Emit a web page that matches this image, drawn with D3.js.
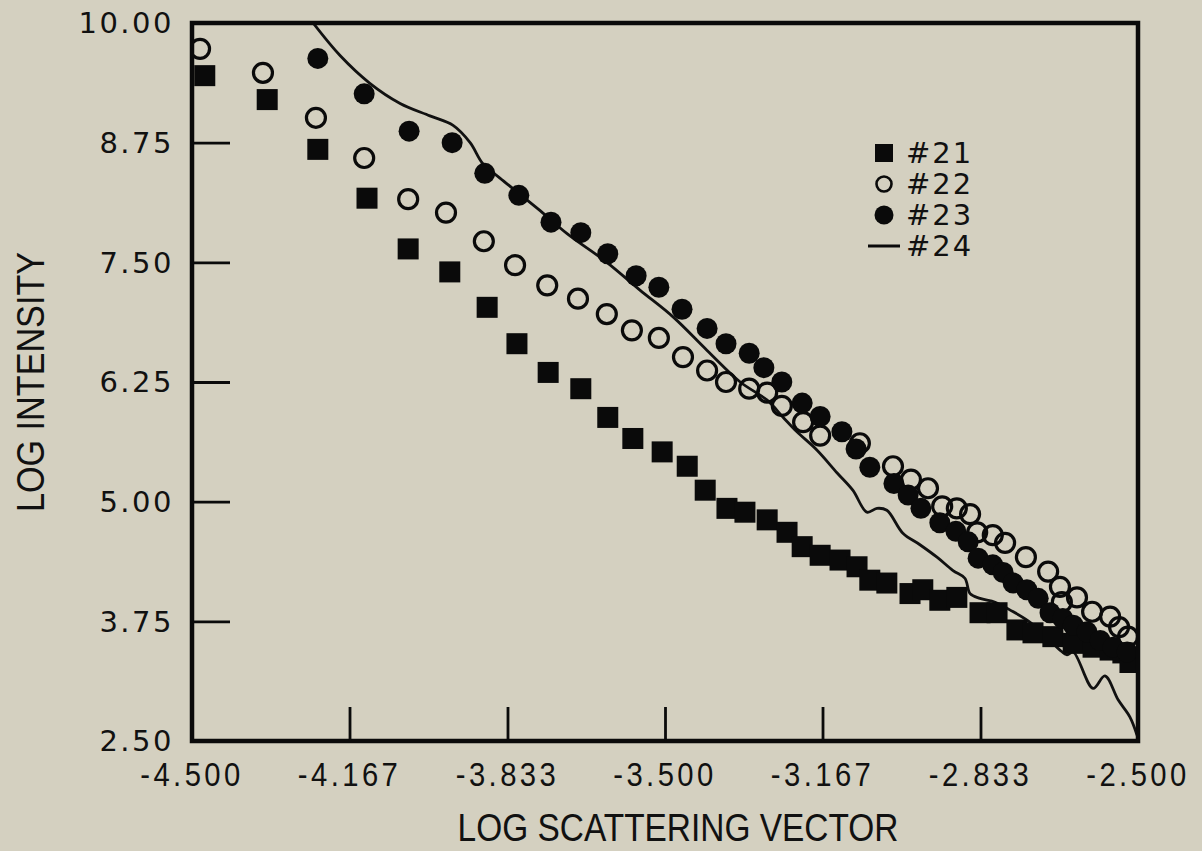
<!DOCTYPE html>
<html>
<head>
<meta charset="utf-8">
<script src="https://cdn.jsdelivr.net/npm/d3@7"></script>
<style>
  html, body { margin: 0; padding: 0; background: #d4d0c0; }
  svg { display: block; }
  .tick-y { font-family: "DejaVu Sans", sans-serif; font-size: 29px; letter-spacing: 2.5px; }
  .tick-x { font-family: "Liberation Sans", sans-serif; font-size: 34px; letter-spacing: 4px; }
  .title { font-family: "Liberation Sans", sans-serif; font-size: 38px; }
  .legend { font-family: "DejaVu Sans", sans-serif; font-size: 29px; letter-spacing: 2px; }
</style>
</head>
<body>
<svg id="chart"></svg>
<script>
const WIDTH = 1202;
const HEIGHT = 851;

// x tick labels as printed on the original
const xTicks = [-4.5, -4.167, -3.833, -3.5, -3.167, -2.833, -2.5];
const xTickLabels = ['-4.500', '-4.167', '-3.833', '-3.500', '-3.167', '-2.833', '-2.500'];
const yTicks = [2.5, 3.75, 5.0, 6.25, 7.5, 8.75, 10.0];
const yTickLabels = ['2.50', '3.75', '5.00', '6.25', '7.50', '8.75', '10.00'];

// #21 filled squares
const s21x = [-4.473, -4.341, -4.234, -4.130, -4.043, -3.955, -3.876, -3.813, -3.747, -3.678,
  -3.621, -3.568, -3.506, -3.453, -3.415, -3.369, -3.331, -3.284, -3.242, -3.210,
  -3.172, -3.130, -3.094, -3.067, -3.031, -2.982, -2.955, -2.919, -2.883, -2.834,
  -2.798, -2.756, -2.722, -2.680, -2.637, -2.595, -2.559, -2.532, -2.517];
const s21y = [9.45, 9.20, 8.68, 8.17, 7.64, 7.40, 7.03, 6.65, 6.35, 6.18,
  5.88, 5.66, 5.52, 5.37, 5.12, 4.93, 4.89, 4.81, 4.68, 4.53,
  4.44, 4.39, 4.32, 4.18, 4.15, 4.04, 4.08, 3.97, 4.00, 3.84,
  3.84, 3.66, 3.63, 3.59, 3.52, 3.48, 3.45, 3.42, 3.32];

// #22 open circles
const s22x = [-4.483, -4.350, -4.238, -4.136, -4.043, -3.963, -3.883, -3.817, -3.749, -3.684,
  -3.623, -3.570, -3.513, -3.462, -3.411, -3.371, -3.322, -3.284, -3.253, -3.208,
  -3.172, -3.088, -3.018, -2.980, -2.944, -2.914, -2.883, -2.855, -2.840, -2.807,
  -2.781, -2.737, -2.690, -2.665, -2.661, -2.629, -2.597, -2.559, -2.540, -2.521];
const s22y = [9.73, 9.48, 9.01, 8.59, 8.16, 8.02, 7.72, 7.47, 7.26, 7.12,
  6.96, 6.79, 6.71, 6.51, 6.37, 6.25, 6.18, 6.14, 6.00, 5.83,
  5.69, 5.61, 5.37, 5.23, 5.14, 4.95, 4.93, 4.87, 4.68, 4.65,
  4.57, 4.42, 4.27, 4.11, 3.95, 4.00, 3.85, 3.80, 3.69, 3.59];

// #23 filled circles
const s23x = [-4.234, -4.136, -4.041, -3.950, -3.881, -3.809, -3.741, -3.678, -3.621, -3.561,
  -3.513, -3.464, -3.411, -3.371, -3.322, -3.291, -3.253, -3.210, -3.172, -3.126,
  -3.096, -3.067, -3.016, -2.986, -2.959, -2.919, -2.885, -2.859, -2.838, -2.807,
  -2.785, -2.764, -2.735, -2.711, -2.686, -2.659, -2.637, -2.608, -2.580, -2.553, -2.523];
const s23y = [9.63, 9.26, 8.87, 8.75, 8.43, 8.20, 7.92, 7.81, 7.59, 7.36,
  7.24, 7.01, 6.81, 6.65, 6.55, 6.40, 6.25, 6.03, 5.89, 5.73,
  5.55, 5.36, 5.19, 5.07, 4.93, 4.78, 4.69, 4.58, 4.41, 4.34,
  4.26, 4.15, 4.08, 3.99, 3.84, 3.78, 3.71, 3.64, 3.55, 3.48, 3.43];

// #24 continuous curve
const s24x = [-4.244, -4.187, -4.124, -4.060, -3.997, -3.948, -3.912, -3.885, -3.849, -3.764,
  -3.707, -3.623, -3.553, -3.483, -3.411, -3.341, -3.284, -3.250, -3.221, -3.179,
  -3.136, -3.103, -3.073, -3.052, -3.031, -2.997, -2.961, -2.925, -2.891, -2.866,
  -2.855, -2.834, -2.802, -2.771, -2.728, -2.686, -2.665, -2.650, -2.637, -2.595,
  -2.570, -2.542, -2.517, -2.502];
const s24y = [10.0, 9.66, 9.37, 9.16, 9.03, 8.93, 8.75, 8.53, 8.38, 8.04,
  7.80, 7.50, 7.21, 6.93, 6.58, 6.25, 6.06, 5.88, 5.73, 5.54,
  5.30, 5.12, 4.89, 4.93, 4.91, 4.67, 4.55, 4.42, 4.28, 4.20,
  4.04, 3.99, 3.95, 3.87, 3.74, 3.55, 3.45, 3.40, 3.43, 3.05,
  3.18, 2.93, 2.75, 2.56];

const legendNames = ['#21', '#22', '#23', '#24'];

const margin = { left: 192, right: 1138, top: 23, bottom: 741 };

const svg = d3.select('#chart')
  .attr('width', WIDTH)
  .attr('height', HEIGHT);

svg.append('rect')
  .attr('width', WIDTH)
  .attr('height', HEIGHT)
  .attr('fill', '#d4d0c0');

const x = d3.scaleLinear().domain([-4.5, -2.5]).range([margin.left, margin.right]);
const y = d3.scaleLinear().domain([2.5, 10]).range([margin.bottom, margin.top]);

const zip = (xs, ys) => xs.map((v, i) => ({ x: v, y: ys[i] }));

svg.append('clipPath')
  .attr('id', 'plot-clip')
  .append('rect')
  .attr('x', margin.left)
  .attr('y', margin.top)
  .attr('width', margin.right - margin.left)
  .attr('height', margin.bottom - margin.top);

const plot = svg.append('g').attr('clip-path', 'url(#plot-clip)');

// line #24
const line = d3.line()
  .x((d) => x(d.x))
  .y((d) => y(d.y))
  .curve(d3.curveCatmullRom.alpha(0.5));

plot.append('path')
  .datum(zip(s24x, s24y))
  .attr('d', line)
  .attr('fill', 'none')
  .attr('stroke', '#111')
  .attr('stroke-width', 2.8);

// squares #21
const SQ = 21;
plot.append('g')
  .selectAll('rect')
  .data(zip(s21x, s21y))
  .enter()
  .append('rect')
  .attr('x', (d) => x(d.x) - SQ / 2)
  .attr('y', (d) => y(d.y) - SQ / 2)
  .attr('width', SQ)
  .attr('height', SQ)
  .attr('fill', '#0a0a0a');

// open circles #22
plot.append('g')
  .selectAll('circle')
  .data(zip(s22x, s22y))
  .enter()
  .append('circle')
  .attr('cx', (d) => x(d.x))
  .attr('cy', (d) => y(d.y))
  .attr('r', 9.5)
  .attr('fill', 'none')
  .attr('stroke', '#0a0a0a')
  .attr('stroke-width', 3.2);

// filled circles #23
plot.append('g')
  .selectAll('circle')
  .data(zip(s23x, s23y))
  .enter()
  .append('circle')
  .attr('cx', (d) => x(d.x))
  .attr('cy', (d) => y(d.y))
  .attr('r', 10.5)
  .attr('fill', '#0a0a0a');

// frame
svg.append('rect')
  .attr('x', margin.left)
  .attr('y', margin.top)
  .attr('width', margin.right - margin.left)
  .attr('height', margin.bottom - margin.top)
  .attr('fill', 'none')
  .attr('stroke', '#0a0a0a')
  .attr('stroke-width', 4.5);

// inward ticks
const xAxis = d3.axisTop(x)
  .tickValues(xTicks.slice(1, -1))
  .tickSize(34)
  .tickFormat('');
svg.append('g')
  .attr('transform', `translate(0,${margin.bottom})`)
  .call(xAxis)
  .call((g) => g.select('.domain').remove())
  .call((g) => g.selectAll('line').attr('stroke', '#0a0a0a').attr('stroke-width', 2.8));

const yAxis = d3.axisRight(y)
  .tickValues(yTicks.slice(1, -1))
  .tickSize(38)
  .tickFormat('');
svg.append('g')
  .attr('transform', `translate(${margin.left},0)`)
  .call(yAxis)
  .call((g) => g.select('.domain').remove())
  .call((g) => g.selectAll('line').attr('stroke', '#0a0a0a').attr('stroke-width', 2.8));

// tick labels
svg.append('g')
  .selectAll('text')
  .data(yTicks)
  .enter()
  .append('text')
  .attr('class', 'tick-y')
  .attr('x', 174)
  .attr('y', (d) => y(d))
  .attr('dy', '0.36em')
  .attr('text-anchor', 'end')
  .attr('fill', '#111')
  .text((d, i) => yTickLabels[i]);

svg.append('g')
  .selectAll('text')
  .data(xTicks)
  .enter()
  .append('text')
  .attr('class', 'tick-x')
  .attr('transform', (d) => `translate(${x(d)},786) scale(0.86,1)`)
  .attr('text-anchor', 'middle')
  .attr('fill', '#111')
  .text((d, i) => xTickLabels[i]);

// axis titles
svg.append('text')
  .attr('class', 'title')
  .attr('transform', 'translate(678,841) scale(0.88,1)')
  .attr('text-anchor', 'middle')
  .attr('fill', '#111')
  .text('LOG SCATTERING VECTOR');

svg.append('text')
  .attr('class', 'title')
  .attr('transform', 'translate(44,382) rotate(-90) scale(0.9,1)')
  .attr('text-anchor', 'middle')
  .attr('fill', '#111')
  .text('LOG INTENSITY');

// legend
const legend = svg.append('g').attr('transform', 'translate(884,153)');
const legendRow = 31;
legend.append('rect')
  .attr('x', -9).attr('y', -9).attr('width', 18).attr('height', 18)
  .attr('fill', '#0a0a0a');
legend.append('circle')
  .attr('cx', 0).attr('cy', legendRow).attr('r', 7.5)
  .attr('fill', 'none').attr('stroke', '#0a0a0a').attr('stroke-width', 2.6);
legend.append('circle')
  .attr('cx', 0).attr('cy', legendRow * 2).attr('r', 9.5)
  .attr('fill', '#0a0a0a');
legend.append('line')
  .attr('x1', -16).attr('x2', 16)
  .attr('y1', legendRow * 3).attr('y2', legendRow * 3)
  .attr('stroke', '#0a0a0a').attr('stroke-width', 3);
legend.selectAll('text')
  .data(legendNames)
  .enter()
  .append('text')
  .attr('class', 'legend')
  .attr('x', 22)
  .attr('y', (d, i) => i * legendRow)
  .attr('dy', '0.36em')
  .attr('fill', '#111')
  .text((d) => d);
</script>
</body>
</html>
